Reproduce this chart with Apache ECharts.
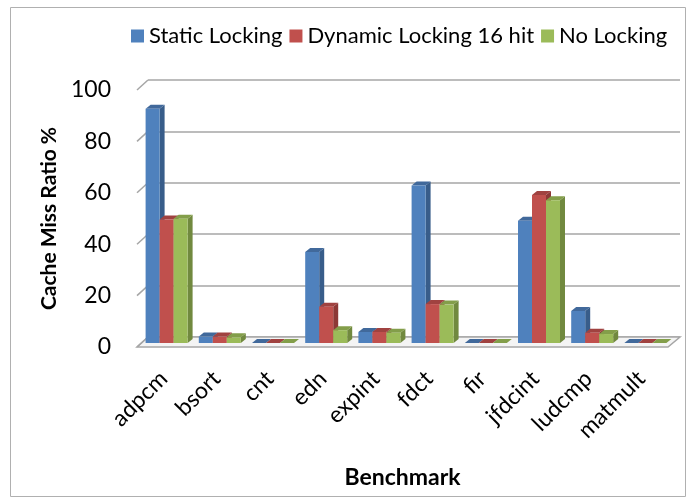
<!DOCTYPE html>
<html>
<head>
<meta charset="utf-8">
<script src="https://cdn.jsdelivr.net/npm/echarts@6/dist/echarts.min.js"></script>
<style>
  html, body { margin: 0; padding: 0; background: #fff; }
  #chart { width: 689px; height: 502px; }
</style>
</head>
<body>
<div id="chart"></div>
<script>
// benchmark names and miss ratios (%)
const categories = ['adpcm', 'bsort', 'cnt', 'edn', 'expint', 'fdct', 'fir', 'jfdcint', 'ludcmp', 'matmult']
const staticLocking = [91.5, 2.5, 0, 35.5, 4.3, 61.5, 0, 47.8, 12.5, 0]
const dynamicLocking = [48.2, 2.5, 0, 14.2, 4.3, 15.2, 0, 57.8, 4.0, 0]
const noLocking = [48.5, 2.2, 0, 5.0, 4.0, 15.0, 0, 55.8, 3.5, 0]
const yTicks = [0, 20, 40, 60, 80, 100]

const faces = [
  { front: '#4F81BD', side: '#385D8A', top: '#41699B' },
  { front: '#C0504D', side: '#8C3836', top: '#A04240' },
  { front: '#9BBB59', side: '#71893F', top: '#839E4A' }
]

const BAR_W = 14, DX = 5, DY = -4
const GRID_LINE = '#a6a6a6'

function bar3d(idx) {
  return function (params, api) {
    const top = api.coord([api.value(0), api.value(1)])
    const base = api.coord([api.value(0), 0])
    const x = top[0] + (idx - 1.5) * BAR_W
    const yt = top[1], yb = base[1]
    const c = faces[idx]
    return {
      type: 'group',
      children: [
        { type: 'polygon', shape: { points: [[x + BAR_W, yt], [x + BAR_W + DX, yt + DY], [x + BAR_W + DX, yb + DY], [x + BAR_W, yb]] }, style: { fill: c.side } },
        { type: 'polygon', shape: { points: [[x, yt], [x + DX, yt + DY], [x + BAR_W + DX, yt + DY], [x + BAR_W, yt]] }, style: { fill: c.top } },
        { type: 'rect', shape: { x: x, y: yt, width: BAR_W, height: yb - yt }, style: { fill: c.front } }
      ]
    }
  }
}

function series(name, values, idx) {
  return {
    name: name,
    type: 'custom',
    xAxisIndex: 2,
    yAxisIndex: 2,
    renderItem: bar3d(idx),
    itemStyle: { color: faces[idx].front },
    encode: { x: 0, y: 1 },
    data: values.map((v, i) => [i, v]),
    z: 3
  }
}

// floor slab + slanted wall ticks, joining the front axis (grid 0) and back wall (grid 1)
function floorAndTicks(params, api) {
  const f = params.coordSys
  const back = chart.getModel().getComponent('grid', 1).coordinateSystem.getRect()
  const children = [{
    type: 'polygon',
    shape: { points: [[f.x, f.y + f.height], [f.x + f.width, f.y + f.height], [back.x + back.width, back.y + back.height], [back.x, back.y + back.height]] },
    style: { fill: '#f4f4f4', stroke: GRID_LINE, lineWidth: 1.5 }
  }]
  yTicks.forEach(v => {
    const fy = f.y + f.height - (v / 100) * f.height
    const by = back.y + back.height - (v / 100) * back.height
    children.push({ type: 'line', shape: { x1: f.x, y1: fy, x2: back.x, y2: by }, style: { stroke: GRID_LINE, lineWidth: 1.5 } })
  })
  return { type: 'group', children: children }
}

const chart = echarts.init(document.getElementById('chart'))
chart.setOption({
  animation: false,
  textStyle: { fontFamily: 'Lato' },
  graphic: [
    { type: 'rect', shape: { x: 10.5, y: 7.5, width: 675, height: 489 }, style: { fill: 'none', stroke: '#b0b0b0', lineWidth: 1 } }
  ],
  legend: {
    top: 20,
    left: 126,
    itemWidth: 13,
    itemHeight: 13,
    itemGap: 7,
    icon: 'rect',
    textStyle: { fontSize: 22, color: '#000', fontFamily: 'Lato' },
    data: ['Static Locking', 'Dynamic Locking 16 hit', 'No Locking']
  },
  grid: [
    { left: 137, right: 21, top: 90, bottom: 155 },   // front edge: labels
    { left: 148, right: 9, top: 80, bottom: 165 },    // back wall: gridlines
    { left: 140, right: 17, top: 87, bottom: 159 }    // bars
  ],
  xAxis: [
    {
      gridIndex: 0,
      type: 'category',
      data: categories,
      name: 'Benchmark',
      nameLocation: 'middle',
      nameGap: 119,
      nameTextStyle: { fontSize: 23, fontWeight: 'bold', color: '#000' },
      axisLine: { show: false },
      axisTick: { show: false },
      axisLabel: { rotate: 45, fontSize: 23, color: '#000', margin: 28 }
    },
    { gridIndex: 1, type: 'category', data: categories, show: false },
    { gridIndex: 2, type: 'category', data: categories, show: false }
  ],
  yAxis: [
    {
      gridIndex: 0,
      type: 'value',
      min: 0,
      max: 100,
      interval: 20,
      name: 'Cache Miss Ratio %',
      nameLocation: 'middle',
      nameGap: 72,
      nameTextStyle: { fontSize: 21, fontWeight: 'bold', color: '#000' },
      axisLine: { show: false },
      axisTick: { show: false },
      axisLabel: { fontSize: 23, color: '#000', margin: 26, formatter: v => yTicks.includes(v) ? v : '' },
      splitLine: { show: false }
    },
    {
      gridIndex: 1,
      type: 'value',
      min: 0,
      max: 100,
      interval: 20,
      axisLine: { show: false },
      axisTick: { show: false },
      axisLabel: { show: false },
      splitLine: { lineStyle: { color: GRID_LINE, width: 1.5 } }
    },
    { gridIndex: 2, type: 'value', min: 0, max: 100, show: false }
  ],
  series: [
    { type: 'custom', xAxisIndex: 0, yAxisIndex: 0, renderItem: floorAndTicks, data: [[0, 0]], silent: true, z: 1 },
    series('Static Locking', staticLocking, 0),
    series('Dynamic Locking 16 hit', dynamicLocking, 1),
    series('No Locking', noLocking, 2)
  ]
})
window.addEventListener('resize', () => chart.resize())
</script>
</body>
</html>
